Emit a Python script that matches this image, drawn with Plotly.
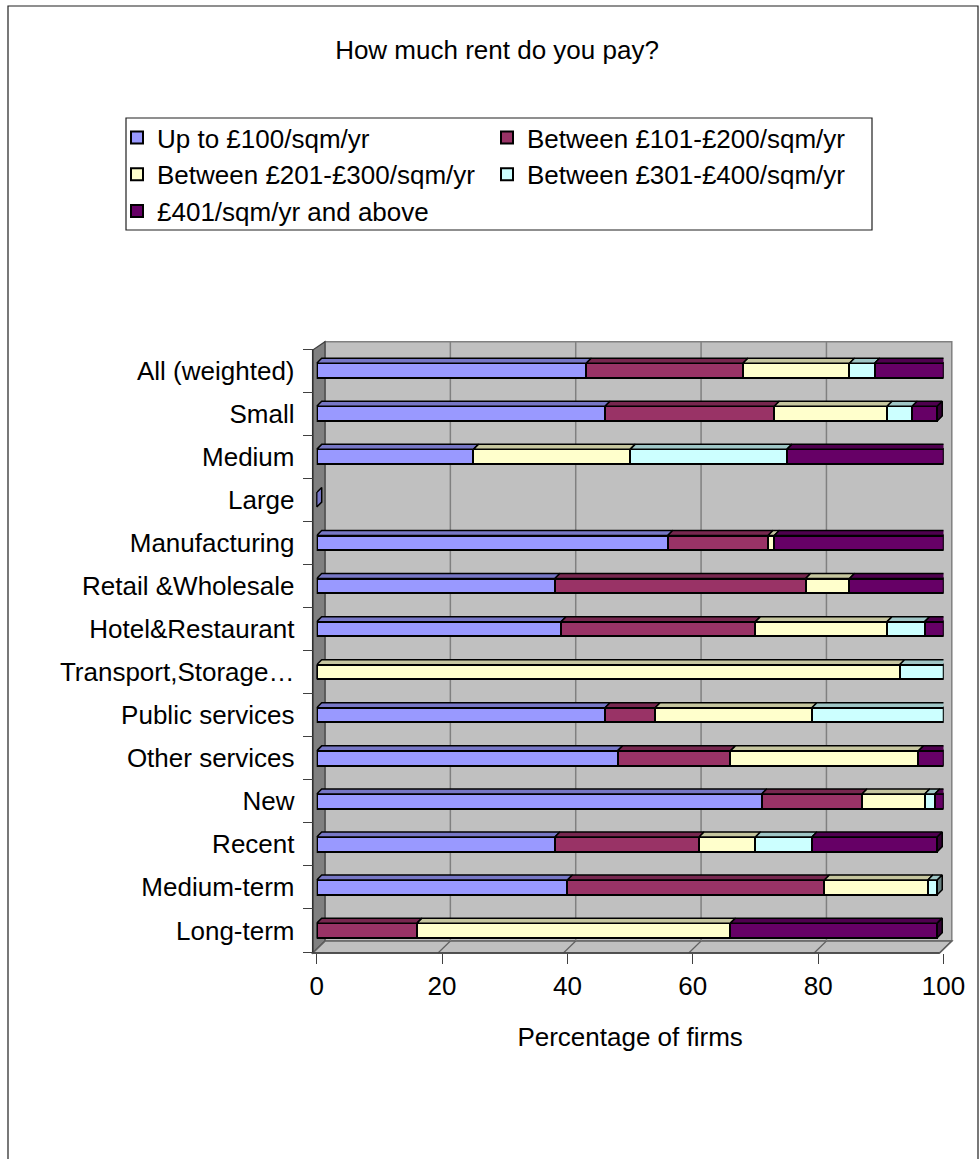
import plotly.graph_objects as go

# ---------------- data ----------------
categories = ["All (weighted)", "Small", "Medium", "Large", "Manufacturing",
              "Retail &Wholesale", "Hotel&Restaurant", "Transport,Storage…",
              "Public services", "Other services", "New", "Recent",
              "Medium-term", "Long-term"]
series_names = ["Up to £100/sqm/yr", "Between £101-£200/sqm/yr",
                "Between £201-£300/sqm/yr", "Between £301-£400/sqm/yr",
                "£401/sqm/yr and above"]
up_to_100 = [43, 46, 25, 0, 56, 38, 39, 0, 46, 48, 71, 38, 40, 0]
between_101_200 = [25, 27, 0, 0, 16, 40, 31, 0, 8, 18, 16, 23, 41, 16]
between_201_300 = [17, 18, 25, 0, 1, 7, 21, 93, 25, 30, 10, 9, 16.5, 50]
between_301_400 = [4, 4, 25, 0, 0, 0, 6, 7, 21, 0, 1.6, 9, 1.5, 0]
above_401 = [11, 4, 25, 0, 27, 15, 3, 0, 0, 4, 1.4, 20, 0, 33]
x_tick_values = [0, 20, 40, 60, 80, 100]
x_title = "Percentage of firms"
chart_title = "How much rent do you pay?"

series_values = [up_to_100, between_101_200, between_201_300, between_301_400, above_401]

# ---------------- styles ----------------
colors = ["#9999FF", "#993366", "#FFFFCC", "#CCFFFF", "#660066"]


def shade(hex_color, f):
    h = hex_color.lstrip("#")
    r, g, b = (int(h[i:i + 2], 16) for i in (0, 2, 4))
    return "rgb(%d,%d,%d)" % (r * f, g * f, b * f)


top_colors = [shade(c, 0.78) for c in colors]
side_colors = [shade(c, 0.5) for c in colors]

FONT = "Liberation Sans, Arial, sans-serif"
FS = 26
W, H = 980, 1159
# paper (plot area) box in pixels
PL, PR, PT, PB = 300, 960, 330, 1000


def px(x):
    return (x - PL) / (PR - PL)


def py(y):
    return (PB - y) / (PB - PT)


# geometry of the pseudo-3D chart (pixels)
BAR_X0, BAR_X100 = 316.7, 943.5
FRONT_X0, FRONT_X100 = 312.7, 939.5
BAR_YT, BAR_YB = 349, 952
FRONT_YT, FRONT_YB = 350, 953
DX, DY = 12.3, 12.0           # wall depth
BACK_X0, BACK_X100 = FRONT_X0 + DX, FRONT_X100 + DX
BACK_YT, BACK_YB = 341.7, FRONT_YB - DY
BAR_W = 0.34
FACE_PX = 5.0                 # bar depth
LEG_BOX = (126, 118, 872, 230)

n = len(categories)
idx = list(range(n))
x_unit_px = (BAR_X100 - BAR_X0) / 100.0
y_unit_px = (BAR_YB - BAR_YT) / n
dxu = FACE_PX / x_unit_px
dyu = FACE_PX / y_unit_px
half = BAR_W / 2

fig = go.Figure()

for name, vals, col in zip(series_names, series_values, colors):
    fig.add_trace(go.Bar(
        y=idx, x=vals, orientation="h", name=name, width=BAR_W,
        marker=dict(color=col, line=dict(color="black", width=2)),
        hoverinfo="skip"))

# top faces and side faces, derived from the data
tops_x = [[] for _ in series_values]
tops_y = [[] for _ in series_values]
sides_x = [[] for _ in series_values]
sides_y = [[] for _ in series_values]
for i in idx:
    start = 0.0
    last = 0
    for s, vals in enumerate(series_values):
        v = vals[i]
        if v > 0:
            a, b = start, start + v
            yt = i - half
            tops_x[s] += [a, a + dxu, b + dxu, b, a, None]
            tops_y[s] += [yt, yt - dyu, yt - dyu, yt, yt, None]
            start = b
            last = s
    b = start
    yt, yb = i - half, i + half
    sides_x[last] += [b, b + dxu, b + dxu, b, b, None]
    sides_y[last] += [yt, yt - dyu, yb - dyu, yb, yt, None]

for s in range(len(series_values)):
    fig.add_trace(go.Scatter(x=tops_x[s], y=tops_y[s], mode="lines", fill="toself",
                             fillcolor=top_colors[s], line=dict(color="black", width=1.5),
                             showlegend=False, hoverinfo="skip"))
for s in range(len(series_values)):
    fig.add_trace(go.Scatter(x=sides_x[s], y=sides_y[s], mode="lines", fill="toself",
                             fillcolor=side_colors[s] if s > 0 else top_colors[s],
                             line=dict(color="black", width=1.5),
                             showlegend=False, hoverinfo="skip"))

# empty trace so that the overlay axes (front ticks) are drawn
fig.add_trace(go.Scatter(x=[], y=[], xaxis="x2", yaxis="y2", showlegend=False, hoverinfo="skip"))

# ---------------- decoration shapes (walls, floor, grid) ----------------
shapes = []
GRID = "#808080"


def path(points):
    return "M " + " L ".join("%f,%f" % (px(x), py(y)) for x, y in points) + " Z"


# back wall
shapes.append(dict(type="rect", xref="paper", yref="paper", layer="below",
                   x0=px(BACK_X0), x1=px(BACK_X100), y0=py(BACK_YB), y1=py(BACK_YT),
                   fillcolor="#C0C0C0", line=dict(color=GRID, width=1.5)))
# left wall
shapes.append(dict(type="path", xref="paper", yref="paper", layer="below",
                   path=path([(FRONT_X0, FRONT_YB), (FRONT_X0, FRONT_YT), (BACK_X0, BACK_YT),
                              (BACK_X0, BACK_YB)]),
                   fillcolor="#808080", line=dict(color="#404040", width=1.2)))
# floor
shapes.append(dict(type="path", xref="paper", yref="paper", layer="below",
                   path=path([(FRONT_X0, FRONT_YB), (BACK_X0, BACK_YB), (BACK_X100, BACK_YB),
                              (FRONT_X100, FRONT_YB)]),
                   fillcolor="#C0C0C0", line=dict(color="#606060", width=1.5)))
fx_unit = (FRONT_X100 - FRONT_X0) / 100.0
for v in x_tick_values:
    xf = FRONT_X0 + v * fx_unit
    xb = BACK_X0 + v * fx_unit
    if 0 < v < 100:
        shapes.append(dict(type="line", xref="paper", yref="paper", layer="below",
                           x0=px(xb), x1=px(xb), y0=py(BACK_YT), y1=py(BACK_YB),
                           line=dict(color=GRID, width=1.5)))
    shapes.append(dict(type="line", xref="paper", yref="paper", layer="below",
                       x0=px(xf), x1=px(xb), y0=py(FRONT_YB), y1=py(BACK_YB),
                       line=dict(color="#606060", width=1.2)))
# front edges
shapes.append(dict(type="line", xref="paper", yref="paper", layer="below",
                   x0=px(FRONT_X0), x1=px(FRONT_X0), y0=py(FRONT_YT), y1=py(FRONT_YB),
                   line=dict(color="#303030", width=1.5)))
shapes.append(dict(type="line", xref="paper", yref="paper", layer="below",
                   x0=px(FRONT_X0), x1=px(FRONT_X100), y0=py(FRONT_YB), y1=py(FRONT_YB),
                   line=dict(color="#404040", width=1.5)))
# chart border
shapes.append(dict(type="rect", xref="paper", yref="paper", layer="below",
                   x0=px(8), x1=px(978), y0=py(1180), y1=py(6),
                   fillcolor="rgba(0,0,0,0)", line=dict(color="#202020", width=1.2)))
# legend frame
shapes.append(dict(type="rect", xref="paper", yref="paper", layer="below",
                   x0=px(LEG_BOX[0]), x1=px(LEG_BOX[2]), y0=py(LEG_BOX[3]), y1=py(LEG_BOX[1]),
                   fillcolor="white", line=dict(color="#202020", width=1.2)))

fig.update_layout(
    width=W, height=H,
    margin=dict(l=PL, r=W - PR, t=PT, b=H - PB, autoexpand=False),
    paper_bgcolor="white", plot_bgcolor="rgba(0,0,0,0)",
    font=dict(family=FONT, size=FS, color="black"),
    barmode="stack",
    showlegend=True,
    title=dict(text=chart_title, x=497 / W, xref="container", xanchor="center",
               y=1 - 50 / H, yref="container", yanchor="middle",
               font=dict(family=FONT, size=FS, color="black")),
    legend=dict(orientation="h", xref="paper", yref="paper",
                x=px(117), y=py(114), xanchor="left", yanchor="top",
                bgcolor="rgba(0,0,0,0)", borderwidth=0,
                font=dict(family=FONT, size=FS, color="black"),
                entrywidth=325, entrywidthmode="pixels", traceorder="normal",
                itemclick=False, itemdoubleclick=False),
    xaxis=dict(domain=[px(BAR_X0), px(BAR_X100)], range=[0, 100], visible=False,
               anchor="y", fixedrange=True),
    xaxis2=dict(domain=[px(FRONT_X0), px(FRONT_X100)], range=[0, 100], overlaying="x",
                anchor="free", position=py(FRONT_YB), side="bottom",
                tickvals=x_tick_values, ticks="outside", ticklen=10, tickwidth=1.2,
                tickcolor="#404040", showgrid=False, zeroline=False, showline=False,
                tickfont=dict(family=FONT, size=FS, color="black"),
                title=dict(text=x_title, standoff=27,
                           font=dict(family=FONT, size=FS, color="black"))),
    yaxis=dict(domain=[py(BAR_YB), py(BAR_YT)], range=[n - 0.5, -0.5],
               tickvals=idx, ticktext=categories, ticks="outside", ticklen=13,
               tickcolor="rgba(0,0,0,0)", showgrid=False, zeroline=False, showline=False,
               anchor="free", position=px(FRONT_X0),
               tickfont=dict(family=FONT, size=FS, color="black")),
    yaxis2=dict(overlaying="y", range=[n - 0.5, -0.5],
                tickvals=[k - 0.5 for k in range(n + 1)], ticks="outside", ticklen=10,
                tickwidth=1.2, tickcolor="#404040", showticklabels=False,
                showgrid=False, zeroline=False, showline=False,
                anchor="free", position=px(FRONT_X0)),
    shapes=shapes,
)

fig.write_html("out.html")
